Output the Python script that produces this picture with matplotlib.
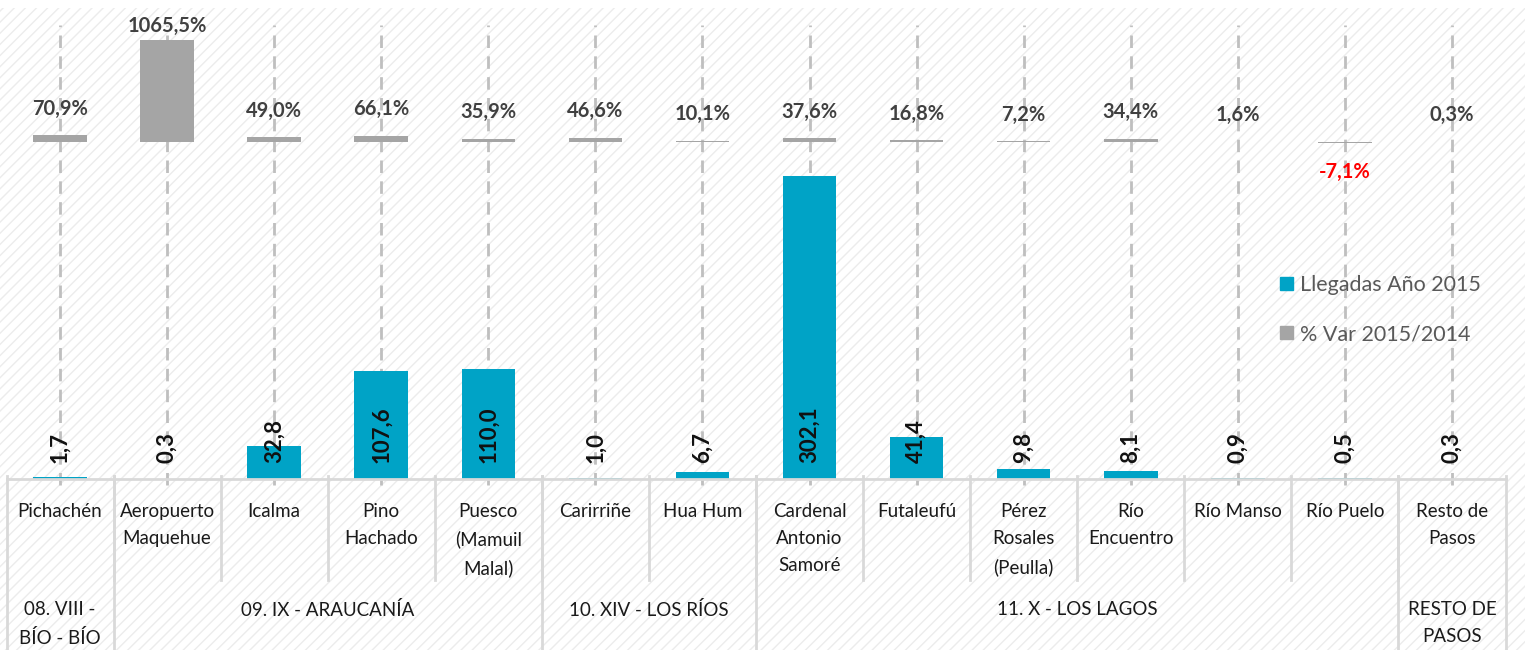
import matplotlib
matplotlib.use("Agg")
import matplotlib.pyplot as plt
from matplotlib.patches import Rectangle, Patch
from matplotlib.transforms import blended_transform_factory

plt.rcParams['font.family'] = ['Lato', 'DejaVu Sans']
plt.rcParams['hatch.linewidth'] = 1.0
plt.rcParams['hatch.color'] = '#ececec'

# data
passes = ["Pichachén", "Aeropuerto\nMaquehue", "Icalma", "Pino\nHachado", "Puesco\n(Mamuil\nMalal)",
          "Carirriñe", "Hua Hum", "Cardenal\nAntonio\nSamoré", "Futaleufú", "Pérez\nRosales\n(Peulla)",
          "Río\nEncuentro", "Río Manso", "Río Puelo", "Resto de\nPasos"]
arrivals_2015 = [1.7, 0.3, 32.8, 107.6, 110.0, 1.0, 6.7, 302.1, 41.4, 9.8, 8.1, 0.9, 0.5, 0.3]
var_pct = [70.9, 1065.5, 49.0, 66.1, 35.9, 46.6, 10.1, 37.6, 16.8, 7.2, 34.4, 1.6, -7.1, 0.3]
regions = ["08. VIII -\nBÍO - BÍO", "09. IX - ARAUCANÍA", "10. XIV - LOS RÍOS", "11. X - LOS LAGOS", "RESTO DE\nPASOS"]
region_sizes = [1, 4, 2, 6, 1]

BLUE = '#00a3c6'
GRAY = '#a5a5a5'
W, H = 1525, 650

fig = plt.figure(figsize=(15.25, 6.5), dpi=100)
# light diagonal hatch background like the Excel chart area
fig.patches.append(Rectangle((0, 0), 1, (H - 8) / H, transform=fig.transFigure,
                             facecolor='white', edgecolor='#ececec', hatch='///', lw=0, zorder=-10))

left, right, bottom, top = 6.5, 1505.5, 479, 10  # pixels
ax = fig.add_axes([left / W, (H - bottom) / H, (right - left) / W, (bottom - top) / H])
ax.set_facecolor('none')
ax2 = ax.twinx()

x = list(range(len(passes)))
px_per_unit = 1.004
px_per_pct = 0.0957
ax.set_ylim(0, (bottom - top) / px_per_unit)
ax2.set_ylim(-(bottom - 142) / px_per_pct, (142 - top) / px_per_pct)
ax.set_xlim(-0.5, len(passes) - 0.5)

# dashed drop lines at each category
ax.vlines(x, -0.013, 0.968, transform=blended_transform_factory(ax.transData, ax.transAxes),
          colors='#bfbfbf', linestyles=(0, (4.5, 3)), lw=2, zorder=0, clip_on=False)

ax.bar(x, arrivals_2015, width=0.5, color=BLUE, zorder=2)
ax2.bar(x, var_pct, width=0.5, color=GRAY, zorder=2)

for i, v in enumerate(arrivals_2015):
    ax.annotate(f"{v:.1f}".replace('.', ','), (i, 0), xytext=(0, 11.5), textcoords='offset points',
                rotation=90, ha='center', va='bottom', fontsize=16, fontweight='bold', color='#111111',
                zorder=5)

for i, v in enumerate(var_pct):
    txt = f"{v:.1f}%".replace('.', ',')
    if v < 0:
        ax2.annotate(txt, (i, v), xytext=(0, -14), textcoords='offset points', ha='center', va='top',
                     fontsize=14.5, fontweight='bold', color='#ff0000')
    else:
        off = 3 if v > 1000 else 12
        ax2.annotate(txt, (i, v), xytext=(0, off), textcoords='offset points', ha='center', va='bottom',
                     fontsize=14.5, fontweight='bold', color='#404040')

for a in (ax, ax2):
    for s in a.spines.values():
        s.set_visible(False)
    a.set_yticks([])
    a.set_xticks([])

# category table below the axis
tr = blended_transform_factory(ax.transData, fig.transFigure)
def fy(ypix):
    return (H - ypix) / H

line_kw = dict(color='#d9d9d9', lw=2, transform=tr, clip_on=False)
ax.plot([-0.5, len(passes) - 0.5], [fy(bottom), fy(bottom)], **line_kw)
for i in range(1, len(passes)):
    ax.plot([i - 0.5, i - 0.5], [fy(476), fy(580)], **line_kw)
edge = -0.5
ax.plot([edge, edge], [fy(476), fy(H)], **line_kw)
for n in region_sizes:
    edge += n
    ax.plot([edge, edge], [fy(476), fy(H)], **line_kw)

for i, name in enumerate(passes):
    ax.text(i, fy(503), name, transform=tr, ha='center', va='top', fontsize=13.5,
            color='#1a1a1a', linespacing=1.72)

start = -0.5
for name, n in zip(regions, region_sizes):
    ax.text(start + n / 2, fy(601), name, transform=tr, ha='center', va='top', fontsize=13.5,
            color='#1a1a1a', linespacing=1.72)
    start += n

handles = [Patch(color=BLUE), Patch(color=GRAY)]
fig.legend(handles, ["Llegadas Año 2015", "% Var 2015/2014"], loc='upper left',
           bbox_to_anchor=(1280 / W, 1 - 275 / H), frameon=False, fontsize=15.5,
           labelcolor='#595959', handlelength=0.6, handleheight=0.6, handletextpad=0.35,
           labelspacing=1.35, borderpad=0, borderaxespad=0)

fig.savefig("out.png", dpi=100)
